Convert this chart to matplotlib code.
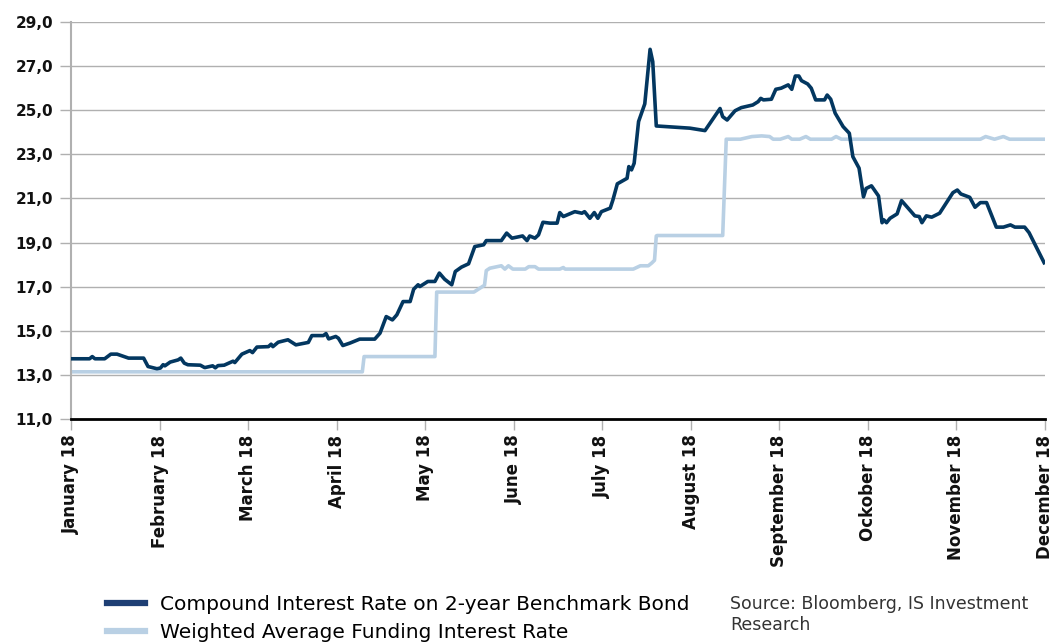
import matplotlib
matplotlib.use('Agg')
import matplotlib.pyplot as plt
from matplotlib.lines import Line2D

# x positions are in months since January 2018 (0 = January, 11 = December)
bond_x = [0.01, 0.21, 0.24, 0.27, 0.38, 0.45, 0.52, 0.65, 0.82, 0.87, 0.97, 1.01, 1.04, 1.06,
          1.12, 1.21, 1.24, 1.28, 1.32, 1.46, 1.51, 1.60, 1.63, 1.66, 1.73, 1.83, 1.85, 1.93,
          2.02, 2.05, 2.10, 2.23, 2.26, 2.28, 2.34, 2.45, 2.54, 2.68, 2.72, 2.85, 2.88, 2.91,
          2.99, 3.02, 3.07, 3.15, 3.26, 3.43, 3.49, 3.56, 3.63, 3.68, 3.75, 3.83, 3.87, 3.92,
          3.94, 4.03, 4.11, 4.16, 4.22, 4.30, 4.34, 4.41, 4.49, 4.56, 4.66, 4.69, 4.86, 4.92,
          4.98, 5.10, 5.15, 5.18, 5.24, 5.28, 5.33, 5.41, 5.49, 5.52, 5.56, 5.69, 5.77, 5.80,
          5.86, 5.91, 5.95, 5.99, 6.09, 6.12, 6.17, 6.28, 6.30, 6.33, 6.36, 6.41, 6.48, 6.54,
          6.57, 6.61, 6.73, 6.99, 7.16, 7.33, 7.36, 7.41, 7.50, 7.57, 7.70, 7.76, 7.79, 7.82,
          7.91, 7.96, 8.02, 8.10, 8.14, 8.18, 8.22, 8.25, 8.32, 8.36, 8.41, 8.51, 8.54, 8.58,
          8.63, 8.72, 8.79, 8.83, 8.90, 8.95, 8.98, 9.04, 9.12, 9.16, 9.18, 9.21, 9.25, 9.33,
          9.38, 9.53, 9.58, 9.61, 9.66, 9.72, 9.81, 9.96, 10.01, 10.05, 10.15, 10.21, 10.27,
          10.34, 10.45, 10.53, 10.61, 10.66, 10.77, 10.82, 10.99]
bond_y = [13.74, 13.74, 13.84, 13.74, 13.74, 13.95, 13.95, 13.77, 13.77, 13.39, 13.29, 13.32,
          13.47, 13.42, 13.59, 13.69, 13.77, 13.54, 13.47, 13.45, 13.34, 13.42, 13.33, 13.43,
          13.45, 13.63, 13.57, 13.95, 14.11, 14.02, 14.27, 14.29, 14.40, 14.29, 14.49, 14.60,
          14.37, 14.48, 14.79, 14.79, 14.88, 14.64, 14.75, 14.67, 14.34, 14.45, 14.63, 14.63,
          14.90, 15.65, 15.50, 15.73, 16.33, 16.33, 16.89, 17.09, 17.01, 17.24, 17.24, 17.62,
          17.34, 17.09, 17.69, 17.89, 18.04, 18.82, 18.90, 19.09, 19.09, 19.43, 19.20, 19.30,
          19.09, 19.30, 19.20, 19.35, 19.92, 19.88, 19.88, 20.36, 20.18, 20.40, 20.33, 20.40,
          20.10, 20.36, 20.10, 20.40, 20.56, 20.93, 21.66, 21.91, 22.44, 22.29, 22.59, 24.48,
          25.28, 27.75, 27.19, 24.28, 24.25, 24.18, 24.07, 25.07, 24.70, 24.55, 24.97, 25.11,
          25.23, 25.38, 25.53, 25.46, 25.49, 25.94, 25.99, 26.14, 25.94, 26.54, 26.54, 26.33,
          26.18, 25.99, 25.46, 25.46, 25.68, 25.49, 24.86, 24.25, 23.95, 22.89, 22.37, 21.07,
          21.45, 21.57, 21.11, 19.90, 20.03, 19.90, 20.10, 20.30, 20.90, 20.21, 20.18, 19.90,
          20.21, 20.15, 20.33, 21.26, 21.38, 21.20, 21.05, 20.60, 20.81, 20.81, 19.70, 19.70,
          19.80, 19.70, 19.70, 19.45, 18.09]

funding_x = [0.0, 3.29, 3.31, 4.11, 4.13, 4.55, 4.67, 4.69, 4.73, 4.86, 4.90, 4.94, 4.99, 5.13,
             5.17, 5.24, 5.28, 5.52, 5.56, 5.58, 6.35, 6.43, 6.52, 6.56, 6.59, 6.61, 6.62, 7.36,
             7.40, 7.56, 7.69, 7.80, 7.89, 7.93, 8.01, 8.10, 8.14, 8.23, 8.30, 8.35, 8.59, 8.64,
             8.70, 10.27, 10.33, 10.43, 10.53, 10.60, 11.0]
funding_y = [13.15, 13.15, 13.84, 13.84, 16.76, 16.76, 17.07, 17.73, 17.84, 17.95, 17.80, 17.95,
             17.80, 17.80, 17.91, 17.91, 17.80, 17.80, 17.87, 17.80, 17.80, 17.95, 17.95, 18.08,
             18.20, 19.30, 19.32, 19.32, 23.68, 23.68, 23.80, 23.83, 23.80, 23.68, 23.68, 23.80,
             23.68, 23.68, 23.80, 23.68, 23.68, 23.80, 23.68, 23.68, 23.80, 23.68, 23.80, 23.68,
             23.68]

months = ['January 18', 'February 18', 'March 18', 'April 18', 'May 18', 'June 18', 'July 18',
          'August 18', 'September 18', 'Ockober 18', 'November 18', 'December 18']
y_ticks = [11, 13, 15, 17, 19, 21, 23, 25, 27, 29]

dark = '#033760'
light = '#b9d0e4'
grid_c = '#b0b0b0'

plt.rcParams['font.family'] = ['DejaVu Sans']

fig = plt.figure(figsize=(10.56, 6.44), dpi=100)
ax = fig.add_axes([71 / 1056, 1 - 419.3 / 644, (1045 - 71) / 1056, (419.3 - 21.7) / 644])

ax.plot(funding_x, funding_y, color=light, lw=2.6, solid_joinstyle='round', zorder=2)
ax.plot(bond_x, bond_y, color=dark, lw=2.6, solid_joinstyle='round', zorder=3)

ax.set_xlim(0, 11)
ax.set_ylim(11, 29)
ax.set_yticks(y_ticks)
ax.set_yticklabels(['{:.1f}'.format(v).replace('.', ',') for v in y_ticks],
                   fontsize=11, fontweight='bold', color='#111111')
ax.set_xticks(range(len(months)))
ax.set_xticklabels(months, rotation=90, fontsize=12, fontweight='bold', color='#111111',
                   va='top', ha='center')

ax.yaxis.grid(True, color=grid_c, lw=1.0)
ax.set_axisbelow(True)
ax.tick_params(axis='y', length=8, width=1.0, color=grid_c, pad=5)
ax.tick_params(axis='x', length=8, width=1.0, color=grid_c, pad=3)

for s in ['top', 'right']:
    ax.spines[s].set_visible(False)
ax.spines['left'].set_color(grid_c)
ax.spines['left'].set_linewidth(1.5)
ax.spines['bottom'].set_color('black')
ax.spines['bottom'].set_linewidth(2.0)
ax.spines['bottom'].set_zorder(4)

handles = [Line2D([], [], color='#1e3f74', lw=4.5),
           Line2D([], [], color=light, lw=4.5)]
labels = ['Compound Interest Rate on 2-year Benchmark Bond',
          'Weighted Average Funding Interest Rate']
fig.legend(handles, labels, loc='upper left', bbox_to_anchor=(107 / 1056, 1 - 595 / 644),
           frameon=False, fontsize=14.5, handlelength=1.9, handletextpad=0.75,
           labelspacing=0.45, borderaxespad=0, borderpad=0)

fig.text(730 / 1056, 1 - 595 / 644, 'Source: Bloomberg, IS Investment\nResearch',
         fontsize=12.5, color='#333333', va='top', ha='left', linespacing=1.25)

fig.savefig('out.png', dpi=100)
